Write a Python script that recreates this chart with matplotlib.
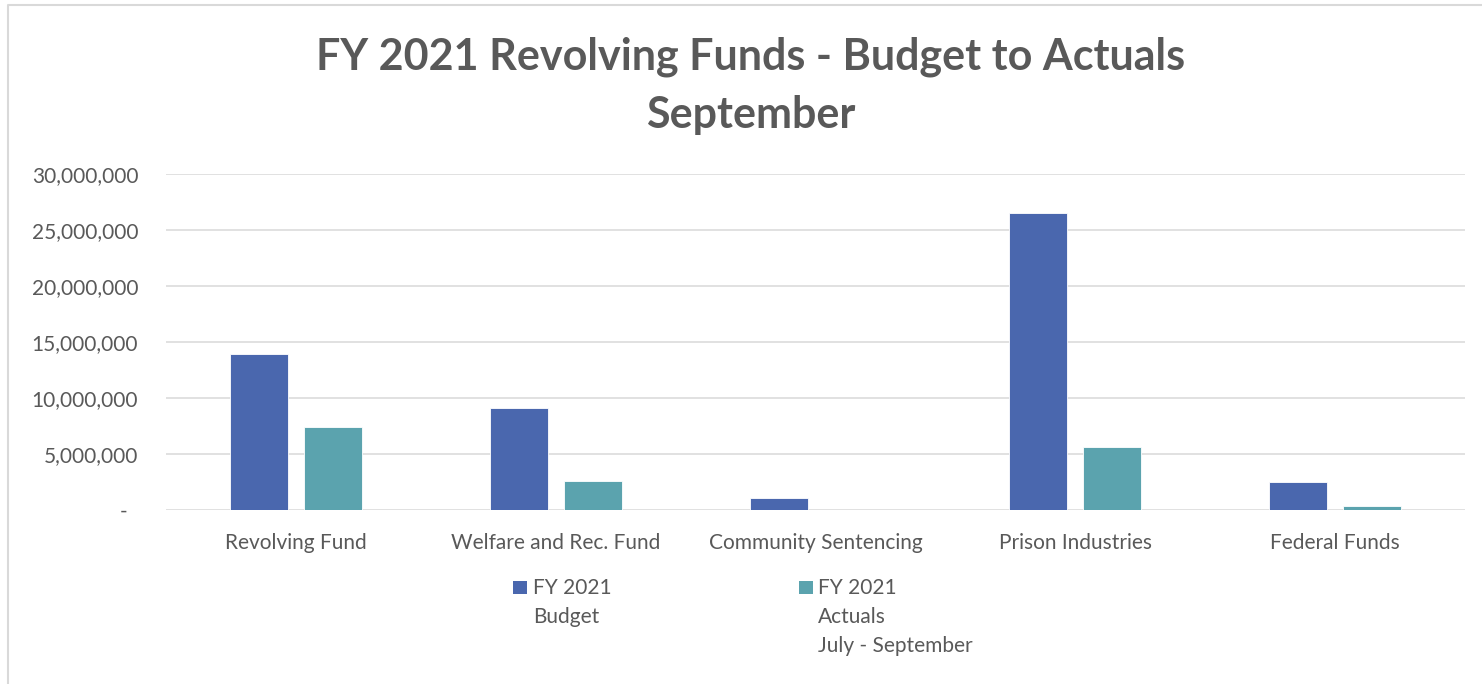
import matplotlib.pyplot as plt
from matplotlib.lines import Line2D
from matplotlib.patches import Rectangle
import numpy as np

plt.rcParams['font.family'] = ['Lato', 'DejaVu Sans']

categories = ['Revolving Fund', 'Welfare and Rec. Fund', 'Community Sentencing',
              'Prison Industries', 'Federal Funds']
budget = [13900000, 9080000, 1100000, 26490000, 2530000]
actuals = [7410000, 2590000, 0, 5620000, 330000]
yticks = [0, 5000000, 10000000, 15000000, 20000000, 25000000, 30000000]
ylabels = ['-  ', '5,000,000', '10,000,000', '15,000,000',
           '20,000,000', '25,000,000', '30,000,000']

blue = '#4a67ae'
teal = '#5ba3ae'
grey = '#595959'
gridc = '#d9d9d9'

fig = plt.figure(figsize=(14.82, 6.84), dpi=100)
ax = fig.add_axes([166/1482, 1-510/684, 1299/1482, 336/684])

x = np.arange(len(categories))
w = 0.223
off = 0.142
ax.bar(x - off, budget, w, color=blue, edgecolor='white', linewidth=0.6, zorder=3)
ax.bar(x + off, actuals, w, color=teal, edgecolor='white', linewidth=0.6, zorder=3)

ax.set_xlim(-0.5, len(categories) - 0.5)
ax.set_ylim(0, 30000000)
ax.set_yticks(yticks)
ax.set_yticklabels(ylabels)
ax.set_xticks(x)
ax.set_xticklabels(categories)
ax.tick_params(axis='both', length=0, labelsize=15, labelcolor=grey)
ax.tick_params(axis='y', pad=20)
ax.tick_params(axis='x', pad=16.5)
ax.yaxis.grid(True, color=gridc, linewidth=1.1, zorder=0)
for s in ax.spines.values():
    s.set_visible(False)

# two-line title
fig.text(751/1482, 1-57/684, 'FY 2021 Revolving Funds - Budget to Actuals',
         ha='center', va='center', fontsize=31, fontweight='bold', color=grey)
fig.text(751/1482, 1-115/684, 'September',
         ha='center', va='center', fontsize=31, fontweight='bold', color=grey)

# legend below the axis
W, H = 1482, 684
fig.patches.append(Rectangle((513/W, 1-594/H), 14/W, 13/H, transform=fig.transFigure,
                             facecolor=blue, edgecolor='none'))
fig.patches.append(Rectangle((799/W, 1-594/H), 14/W, 13/H, transform=fig.transFigure,
                             facecolor=teal, edgecolor='none'))
for i, line in enumerate(['FY 2021', 'Budget']):
    fig.text(533/W, 1-(588+29*i)/H, line, ha='left', va='center', fontsize=15, color=grey)
for i, line in enumerate(['FY 2021', 'Actuals', 'July - September']):
    fig.text(818/W, 1-(588+29*i)/H, line, ha='left', va='center', fontsize=15, color=grey)

# chart frame
fig.add_artist(Line2D([8/W, 8/W, 1.0], [0.0, 1-5/H, 1-5/H], transform=fig.transFigure,
                      color=gridc, linewidth=1.5))

fig.savefig('out.png', dpi=100)
